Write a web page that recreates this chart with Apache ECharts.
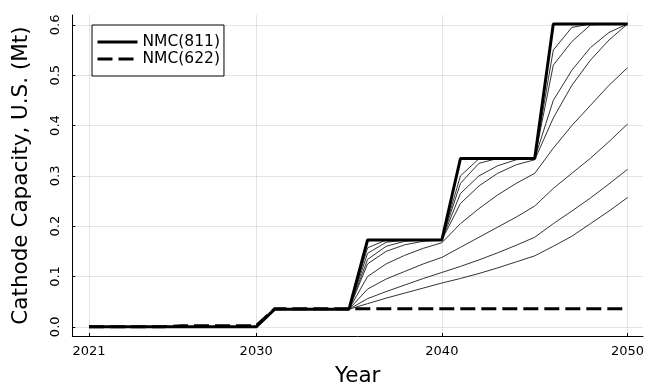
<!DOCTYPE html>
<html><head><meta charset="utf-8">
<script src="https://cdn.jsdelivr.net/npm/echarts@6/dist/echarts.min.js"></script>
<style>html,body{margin:0;padding:0;background:#fff}#c{width:648px;height:392px}</style>
</head><body><div id="c"></div><script>
// ---- data ----
const years = [2021,2022,2023,2024,2025,2026,2027,2028,2029,2030,2031,2032,2033,2034,2035,2036,2037,2038,2039,2040,2041,2042,2043,2044,2045,2046,2047,2048,2049,2050];
const nmc811 = [0,0,0,0,0,0,0,0,0,0,0.035,0.035,0.035,0.035,0.035,0.1725,0.1725,0.1725,0.1725,0.1725,0.3345,0.3345,0.3345,0.3345,0.3345,0.602,0.602,0.602,0.602,0.602];
const nmc622 = [0,0,0,0,0,0.002,0.002,0.002,0.002,0.002,0.036,0.036,0.036,0.036,0.036,0.036,0.036,0.036,0.036,0.036,0.036,0.036,0.036,0.036,0.036,0.036,0.036,0.036,0.036,0.036];
// thin scenario curves, 2035..2050
const lateYears = [2035,2036,2037,2038,2039,2040,2041,2042,2043,2044,2045,2046,2047,2048,2049,2050];
const scen1 = [0.035,0.157,0.1725,0.1725,0.1725,0.1725,0.300,0.334,0.3345,0.3345,0.3345,0.550,0.595,0.602,0.602,0.602];
const scen2 = [0.035,0.146,0.168,0.1725,0.1725,0.1725,0.285,0.325,0.3345,0.3345,0.3345,0.520,0.567,0.600,0.602,0.602];
const scen3 = [0.035,0.134,0.160,0.170,0.1725,0.1725,0.265,0.300,0.320,0.332,0.3345,0.450,0.510,0.555,0.585,0.602];
const scen4 = [0.035,0.125,0.150,0.163,0.170,0.1725,0.245,0.280,0.305,0.322,0.332,0.415,0.480,0.530,0.570,0.602];
const scen5 = [0.035,0.100,0.125,0.142,0.156,0.167,0.205,0.235,0.262,0.285,0.305,0.355,0.400,0.440,0.480,0.515];
const scen6 = [0.035,0.075,0.095,0.110,0.125,0.138,0.158,0.178,0.198,0.218,0.240,0.275,0.305,0.335,0.368,0.403];
const scen7 = [0.035,0.056,0.070,0.083,0.096,0.108,0.120,0.133,0.147,0.162,0.178,0.205,0.230,0.256,0.284,0.313];
const scen8 = [0.035,0.046,0.057,0.067,0.077,0.087,0.096,0.106,0.117,0.129,0.141,0.160,0.180,0.205,0.230,0.257];
const scenarios = [scen1,scen2,scen3,scen4,scen5,scen6,scen7,scen8];
const xTicks = [2021,2030,2040,2050];
const yTicks = [0,0.1,0.2,0.3,0.4,0.5,0.6];

// ---- chart ----
const FONT = 'DejaVu Sans';
const chart = echarts.init(document.getElementById('c'), null, {renderer:'canvas'});
const pair = (xs, ys) => xs.map((x,i)=>[x, ys[i]]);
const series = [];
scenarios.forEach((s,i)=>{
  series.push({name:'s'+i, type:'line', data: pair(lateYears, s), symbol:'none', silent:true, z:2,
    lineStyle:{color:'#333', width:1}});
});
series.push({name:'NMC(622)', type:'line', data: pair(years, nmc622), symbol:'none', z:3,
  itemStyle:{color:'#000'}, lineStyle:{color:'#000', width:3, type:[15,6]}});
series.push({name:'NMC(811)', type:'line', data: pair(years, nmc811), symbol:'none', z:4,
  itemStyle:{color:'#000'}, lineStyle:{color:'#000', width:3}});

chart.setOption({
  animation:false,
  backgroundColor:'#fff',
  textStyle:{fontFamily:FONT},
  grid:{left:72.3, right:5, top:15, bottom:52.7, containLabel:false},
  legend:{
    data:['NMC(811)','NMC(622)'], orient:'vertical', left:92, top:25,
    itemWidth:40, itemHeight:14, itemGap:1,
    padding:[9,4,9,4], borderColor:'#000', borderWidth:1, backgroundColor:'#fff',
    textStyle:{fontFamily:FONT, fontSize:15.5, color:'#000'},
    itemStyle:{opacity:0, color:'transparent', borderWidth:0},
    lineStyle:{width:3, opacity:1}
  },
  xAxis:{type:'value', min:2020.10, max:2050.83,
    name:'Year', nameLocation:'middle', nameGap:29,
    nameTextStyle:{fontFamily:FONT, fontSize:21.5, color:'#000'},
    axisLine:{onZero:false, lineStyle:{color:'#000', width:1}},
    axisTick:{inside:true, length:3, customValues:xTicks, lineStyle:{color:'#000'}},
    axisLabel:{customValues:xTicks, fontFamily:FONT, fontSize:13, color:'#000', margin:9, formatter:v=>String(v)},
    splitLine:{show:true, lineStyle:{color:'rgba(0,0,0,0.1)', width:1}}
  },
  yAxis:{type:'value', min:-0.0183, max:0.6197,
    name:'Cathode Capacity, U.S. (Mt)', nameLocation:'middle', nameGap:39.5,
    nameTextStyle:{fontFamily:FONT, fontSize:21.5, color:'#000'},
    axisLine:{show:true, onZero:false, lineStyle:{color:'#000', width:1}},
    axisTick:{show:true, inside:true, length:3, customValues:yTicks, lineStyle:{color:'#000'}},
    axisLabel:{customValues:yTicks, rotate:90, fontFamily:FONT, fontSize:13, color:'#000', margin:10, formatter:v=>v.toFixed(1)},
    splitLine:{show:true, lineStyle:{color:'rgba(0,0,0,0.1)', width:1}}
  },
  series: series
});
</script></body></html>
